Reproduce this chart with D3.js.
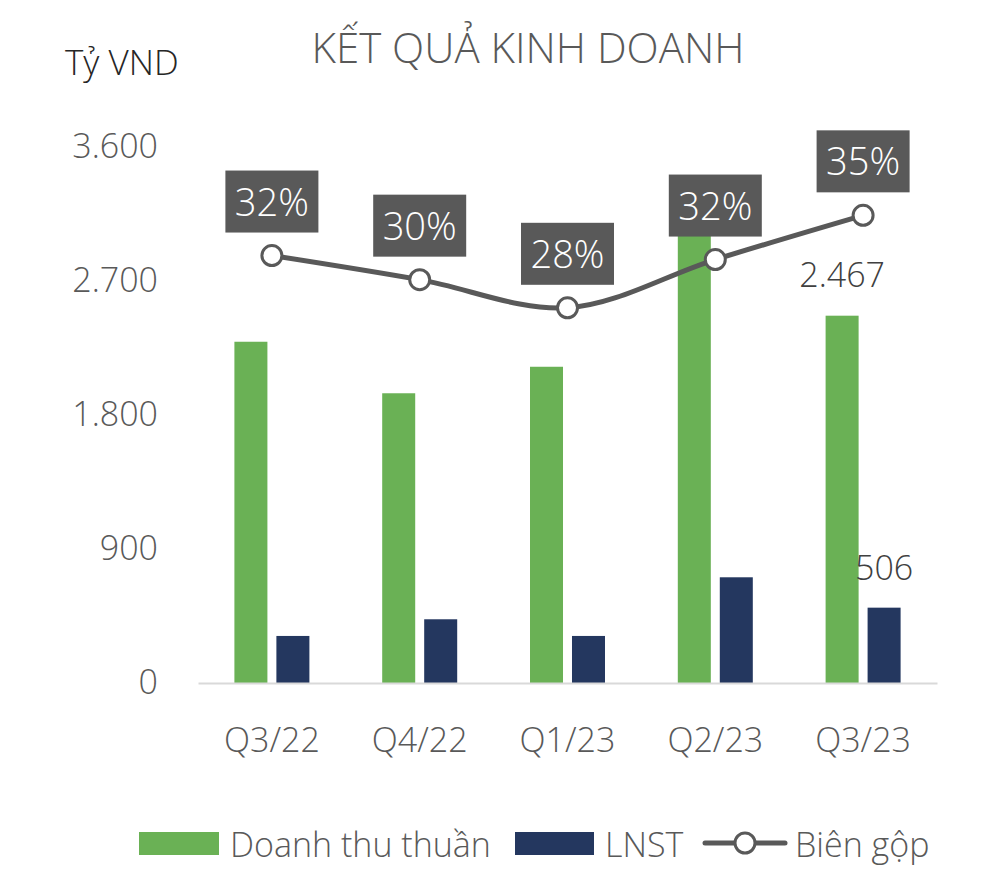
<!DOCTYPE html>
<html>
<head>
<meta charset="utf-8">
<script src="https://cdn.jsdelivr.net/npm/d3@7"></script>
<style>
  html, body { margin: 0; padding: 0; background: #ffffff; }
  svg { display: block; }
  text { font-family: "Open Sans", "Noto Sans", sans-serif; }
</style>
</head>
<body>
<svg id="chart" width="1000" height="876"></svg>
<script>
// ---- data ----
const categories = ["Q3/22", "Q4/22", "Q1/23", "Q2/23", "Q3/23"];
const revenue = [2292, 1946, 2124, 3100, 2467];      // Doanh thu thuần (tỷ VND)
const profit = [316, 428, 316, 710, 506];            // LNST (tỷ VND)
const grossMargin = [31.9, 30.1, 28.0, 31.6, 34.9];  // Biên gộp (%)
const marginLabels = ["32%", "30%", "28%", "32%", "35%"];
const yTicks = [0, 900, 1800, 2700, 3600];
const seriesNames = ["Doanh thu thuần", "LNST", "Biên gộp"];
const title = "KẾT QUẢ KINH DOANH";
const unitLabel = "Tỷ VND";

// ---- styles ----
const GREEN = "#6ab155";
const NAVY = "#24375f";
const GRAY = "#595959";

const svg = d3.select("#chart");
const locale = d3.formatLocale({ decimal: ",", thousands: ".", grouping: [3], currency: ["", ""] });
const fmt = locale.format(",");

const x = d3.scaleBand().domain(categories).range([198, 937]).paddingInner(0).paddingOuter(0);
const xs = d3.scaleBand().domain(["rev", "prof"]).range([0, 75]).paddingInner(0.214).paddingOuter(0);
const y = d3.scaleLinear().domain([0, 3600]).range([683, 147]);
const yPct = d3.scaleLinear().domain([0, 40]).range([683, 147]);

const cx = c => x(c) + x.bandwidth() / 2;
const groupLeft = c => cx(c) - 37.5;

// title
svg.append("text").attr("x", 528).attr("y", 63).attr("text-anchor", "middle")
  .attr("font-size", 42).attr("fill", GRAY).attr("font-weight", 300).text(title);

svg.append("text").attr("x", 65).attr("y", 75)
  .attr("font-size", 35).attr("fill", "#262626").attr("font-weight", 300).text(unitLabel);

// y axis
const yAxis = svg.append("g").attr("transform", "translate(168,0)")
  .call(d3.axisLeft(y).tickValues(yTicks).tickSize(0).tickPadding(10).tickFormat(fmt));
yAxis.select(".domain").remove();
yAxis.selectAll("text").attr("font-size", 34).attr("fill", GRAY).attr("font-weight", 300)
  .attr("font-family", "'Open Sans', 'Noto Sans', sans-serif");

// bars
svg.append("g").selectAll("rect").data(categories).join("rect")
  .attr("x", c => groupLeft(c) + xs("rev")).attr("width", xs.bandwidth())
  .attr("y", (c, i) => y(revenue[i])).attr("height", (c, i) => y(0) - y(revenue[i]))
  .attr("fill", GREEN);
svg.append("g").selectAll("rect").data(categories).join("rect")
  .attr("x", c => groupLeft(c) + xs("prof")).attr("width", xs.bandwidth())
  .attr("y", (c, i) => y(profit[i])).attr("height", (c, i) => y(0) - y(profit[i]))
  .attr("fill", NAVY);

// baseline + x axis
const xAxis = svg.append("g").attr("transform", "translate(0,683)")
  .call(d3.axisBottom(x).tickSize(0).tickPadding(45));
xAxis.select(".domain").attr("stroke", "#d9d9d9").attr("stroke-width", 2);
xAxis.selectAll("text").attr("font-size", 34).attr("fill", GRAY).attr("font-weight", 300)
  .attr("font-family", "'Open Sans', 'Noto Sans', sans-serif");

// data labels on last category
const last = categories.length - 1;
svg.append("text").attr("x", groupLeft(categories[last]) + xs("rev") + xs.bandwidth() / 2)
  .attr("y", y(revenue[last]) - 29).attr("text-anchor", "middle")
  .attr("font-size", 34).attr("fill", "#404040").attr("font-weight", 300).text(fmt(revenue[last]));
svg.append("text").attr("x", groupLeft(categories[last]) + xs("prof") + xs.bandwidth() / 2)
  .attr("y", y(profit[last]) - 28).attr("text-anchor", "middle")
  .attr("font-size", 34).attr("fill", "#404040").attr("font-weight", 300).text(fmt(profit[last]));

// line
const line = d3.line().x((d, i) => cx(categories[i])).y(d => yPct(d)).curve(d3.curveCatmullRom.alpha(0.5));
svg.append("path").datum(grossMargin).attr("d", line)
  .attr("fill", "none").attr("stroke", GRAY).attr("stroke-width", 5).attr("stroke-linecap", "round");
svg.append("g").selectAll("circle").data(grossMargin).join("circle")
  .attr("cx", (d, i) => cx(categories[i])).attr("cy", d => yPct(d)).attr("r", 10)
  .attr("fill", "#ffffff").attr("stroke", GRAY).attr("stroke-width", 3);

// margin label boxes
const lbl = svg.append("g").selectAll("g").data(grossMargin).join("g")
  .attr("transform", (d, i) => `translate(${cx(categories[i])},${yPct(d) - 23})`);
lbl.append("rect").attr("x", -46.5).attr("y", -62).attr("width", 93).attr("height", 62).attr("fill", GRAY);
lbl.append("text").attr("x", 0).attr("y", -17).attr("text-anchor", "middle")
  .attr("font-size", 38).attr("fill", "#ffffff").attr("font-weight", 300)
  .text((d, i) => marginLabels[i]);

// legend
const lg = svg.append("g");
lg.append("rect").attr("x", 139).attr("y", 832).attr("width", 80).attr("height", 23).attr("fill", GREEN);
lg.append("text").attr("x", 230).attr("y", 857).attr("font-size", 34).attr("fill", GRAY).attr("font-weight", 300).text(seriesNames[0]);
lg.append("rect").attr("x", 515).attr("y", 832).attr("width", 79).attr("height", 23).attr("fill", NAVY);
lg.append("text").attr("x", 605).attr("y", 857).attr("font-size", 34).attr("fill", GRAY).attr("font-weight", 300).text(seriesNames[1]);
lg.append("line").attr("x1", 705).attr("x2", 785).attr("y1", 843).attr("y2", 843)
  .attr("stroke", GRAY).attr("stroke-width", 5).attr("stroke-linecap", "round");
lg.append("circle").attr("cx", 745).attr("cy", 843).attr("r", 10).attr("fill", "#fff").attr("stroke", GRAY).attr("stroke-width", 3);
lg.append("text").attr("x", 795).attr("y", 857).attr("font-size", 34).attr("fill", GRAY).attr("font-weight", 300).text(seriesNames[2]);
</script>
</body>
</html>
